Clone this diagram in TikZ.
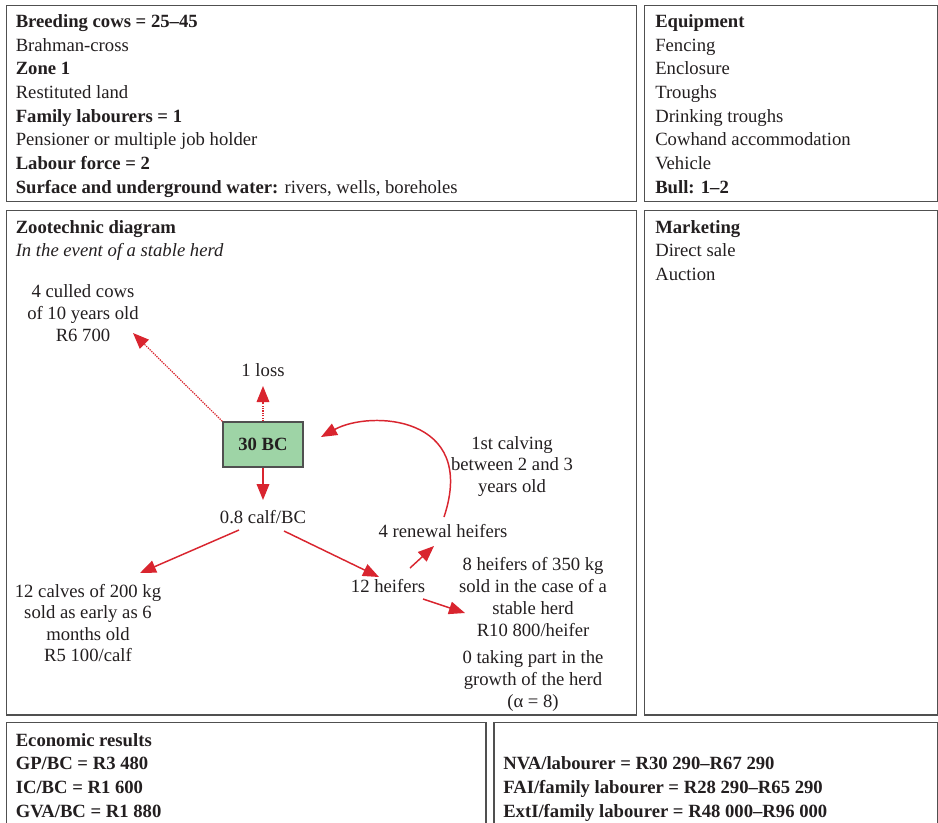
\documentclass[tikz,border=0pt]{standalone}
\usepackage{fontspec}
\setmainfont{Liberation Serif}
\usetikzlibrary{arrows.meta}
\definecolor{txt}{RGB}{35,31,32}
\definecolor{frame}{RGB}{80,80,80}
\definecolor{arr}{RGB}{217,37,47}
\definecolor{bcfill}{RGB}{158,212,166}
\tikzset{
  lbl/.style={font=\fontsize{14pt}{17pt}\selectfont, text=txt, inner sep=0pt},
  ln/.style={lbl, anchor=base west},
  cl/.style={lbl, anchor=base},
  panel/.style={draw=frame, line width=1.1pt},
  flow/.style={draw=arr, line width=1.1pt, -{Triangle[length=12pt,width=9.5pt]}},
  dflow/.style={draw=arr, line width=0.9pt, dash pattern=on 1pt off 0.8pt, -{Triangle[length=12pt,width=9.5pt]}},
}
\begin{document}
\begin{tikzpicture}[x=0.75pt,y=-0.75pt]
\useasboundingbox (0,0) rectangle (938,822);
\clip (0,0) rectangle (938,822);
\fill[white] (0,0) rectangle (938,822);
% panels
\draw[panel] (6.5,5.5) rectangle (636.5,201.5);
\draw[panel] (644.5,5.5) rectangle (937.5,201.5);
\draw[panel] (6.5,210.5) rectangle (636.5,715);
\draw[panel] (644.5,210.5) rectangle (937.5,715);
\draw[panel] (6.5,722.5) rectangle (486,840);
\draw[panel] (494,722.5) rectangle (937.5,840);
% box A
\node[ln] (a1) at (15.5,27.3) {\textbf{Breeding cows = 25–45}};
\node[ln] (a2) at (15.5,51) {Brahman-cross};
\node[ln] (a3) at (15.5,74.7) {\textbf{Zone 1}};
\node[ln] (a4) at (15.5,98.4) {Restituted land};
\node[ln] (a5) at (15.5,122.1) {\textbf{Family labourers = 1}};
\node[ln] (a6) at (15.5,145.8) {Pensioner or multiple job holder};
\node[ln] (a7) at (15.5,169.5) {\textbf{Labour force = 2}};
\node[ln] (a8) at (15.5,193.2) {\textbf{Surface and underground water:} rivers, wells, boreholes};
% box B
\node[ln] (b1) at (655,27.3) {\textbf{Equipment}};
\node[ln] (b2) at (655,51) {Fencing};
\node[ln] (b3) at (655,74.7) {Enclosure};
\node[ln] (b4) at (655,98.4) {Troughs};
\node[ln] (b5) at (655,122.1) {Drinking troughs};
\node[ln] (b6) at (655,145.8) {Cowhand accommodation};
\node[ln] (b7) at (655,169.5) {Vehicle};
\node[ln] (b8) at (655,193.2) {\textbf{Bull: 1–2}};
% box C header
\node[ln] (c1) at (15.5,233) {\textbf{Zootechnic diagram}};
\node[ln] (c2) at (15.5,256.7) {\textit{In the event of a stable herd}};
% box D
\node[ln] (d1) at (655,233) {\textbf{Marketing}};
\node[ln] (d2) at (655,256.7) {Direct sale};
\node[ln] (d3) at (655,280.4) {Auction};
% bottom boxes
\node[ln] (e1) at (15.5,746) {\textbf{Economic results}};
\node[ln] (e2) at (15.5,769.7) {\textbf{GP/BC = R3 480}};
\node[ln] (e3) at (15.5,793.4) {\textbf{IC/BC = R1 600}};
\node[ln] (e4) at (15.5,817.1) {\textbf{GVA/BC = R1 880}};
\node[ln] (f1) at (503,769.7) {\textbf{NVA/labourer = R30 290–R67 290}};
\node[ln] (f2) at (503,793.4) {\textbf{FAI/family labourer = R28 290–R65 290}};
\node[ln] (f3) at (503,817.1) {\textbf{ExtI/family labourer = R48 000–R96 000}};
% diagram
\node[draw=frame, fill=bcfill, line width=1.1pt, minimum width=60pt, minimum height=33.75pt, inner sep=0pt, font=\fontsize{14pt}{17pt}\selectfont\bfseries, text=txt] (bc) at (263,444.5) {30 BC};
\node[cl] (cu1) at (83,297) {4 culled cows};
\node[cl] (cu2) at (83,319) {of 10 years old};
\node[cl] (cu3) at (83,341) {R6 700};
\node[cl] (loss) at (263,376) {1 loss};
\node[cl] (calf) at (263,523) {0.8 calf/BC};
\node[cl] (ren) at (443,537) {4 renewal heifers};
\node[cl] (cv1) at (512,449) {1st calving};
\node[cl] (cv2) at (512,470.5) {between 2 and 3};
\node[cl] (cv3) at (512,492) {years old};
\node[cl] (h12) at (388,592) {12 heifers};
\node[cl] (s1) at (533,570) {8 heifers of 350 kg};
\node[cl] (s2) at (533,592) {sold in the case of a};
\node[cl] (s3) at (533,614) {stable herd};
\node[cl] (s4) at (533,636) {R10 800/heifer};
\node[cl] (z1) at (533,663) {0 taking part in the};
\node[cl] (z2) at (533,685) {growth of the herd};
\node[cl] (z3) at (533,707) {(α = 8)};
\node[cl] (k1) at (88,597) {12 calves of 200 kg};
\node[cl] (k2) at (88,618.5) {sold as early as 6};
\node[cl] (k3) at (88,640) {months old};
\node[cl] (k4) at (88,661.5) {R5 100/calf};
% connector end points
\coordinate (culledtip) at (133,333);
\coordinate (losstip) at (263,386);
\coordinate (calftip) at (263,500);
\coordinate (lstart) at (239,530);
\coordinate (ltip) at (140,573);
\coordinate (rstart) at (284,531);
\coordinate (rtip) at (379,577);
\coordinate (ustart) at (410,568);
\coordinate (utip) at (434,546);
\coordinate (dstart) at (423,599);
\coordinate (dtip) at (465,613);
\coordinate (cstart) at (444,517);
\coordinate (ctip) at (321,437);
% connectors
\draw[dflow] (bc.north west) -- (culledtip);
\draw[dflow] (bc.north) -- (losstip);
\draw[flow] (bc.south) -- (calftip);
\draw[flow] (lstart) -- (ltip);
\draw[flow] (rstart) -- (rtip);
\draw[flow] (ustart) -- (utip);
\draw[flow] (dstart) -- (dtip);
\draw[flow] (cstart) .. controls (478,415) and (370,410) .. (ctip);
\end{tikzpicture}
\end{document}
